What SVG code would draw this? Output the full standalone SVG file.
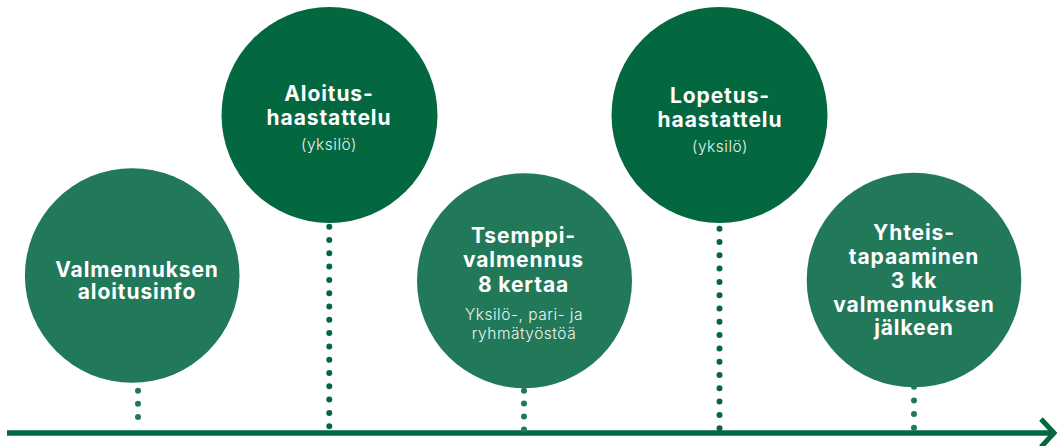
<svg xmlns="http://www.w3.org/2000/svg" width="1057" height="446" viewBox="0 0 1057 446">
<style>
.light{fill:#22795A}
.dark{fill:#03673F}
.t{font-family:Inter,"Open Sans","Liberation Sans",sans-serif;font-weight:700;font-size:21px;fill:#fff;text-anchor:middle;letter-spacing:0.9px}
.s{font-family:Inter,"Open Sans","Liberation Sans",sans-serif;font-weight:300;font-size:15.5px;fill:#fff;text-anchor:middle;letter-spacing:0.5px;opacity:0.92}
.dl{stroke:#22795A;stroke-width:6;stroke-linecap:round;fill:none}
.dd{stroke:#03673F;stroke-width:6;stroke-linecap:round;fill:none}
</style>
<rect width="1057" height="446" fill="#fff"/>
<g id="connectors">
<line x1="7" y1="433" x2="1052" y2="433" stroke="#03673F" stroke-width="5.5"/>
<polyline points="1041,419 1054,433 1041,447" fill="none" stroke="#03673F" stroke-width="5"/>
<line class="dl" x1="138" y1="390.7" x2="138" y2="430" stroke-dasharray="0 13.1"/>
<line class="dd" x1="329.3" y1="226.7" x2="329.3" y2="427" stroke-dasharray="0 13.3"/>
<line class="dl" x1="524" y1="390.7" x2="524" y2="430" stroke-dasharray="0 12.9"/>
<line class="dd" x1="719.5" y1="228.7" x2="719.5" y2="429" stroke-dasharray="0 13.3"/>
<line class="dl" x1="914" y1="386.7" x2="914" y2="428" stroke-dasharray="0 13.7"/>
</g>
<g id="node1">
<circle class="light" cx="132.2" cy="275.5" r="107.3"/>
<text class="t" x="137" y="276.7">Valmennuksen</text>
<text class="t" x="137" y="299.3">aloitusinfo</text>
</g>
<g id="node2">
<circle class="dark" cx="329.5" cy="115" r="108"/>
<text class="t" x="329" y="100.7">Aloitus-</text>
<text class="t" x="329" y="124.7">haastattelu</text>
<text class="s" x="329" y="150">(yksilö)</text>
</g>
<g id="node3">
<circle class="light" cx="524.5" cy="280.7" r="107.5"/>
<text class="t" x="523.5" y="243.3">Tsemppi-</text>
<text class="t" x="523.5" y="267.3">valmennus</text>
<text class="t" x="523.5" y="291.7">8 kertaa</text>
<text class="s" x="524" y="320" font-size="16">Yksilö-, pari- ja</text>
<text class="s" x="524" y="338.5" font-size="16">ryhmätyöstöä</text>
</g>
<g id="node4">
<circle class="dark" cx="719.5" cy="115" r="108"/>
<text class="t" x="720" y="102.7">Lopetus-</text>
<text class="t" x="720" y="126.7">haastattelu</text>
<text class="s" x="720" y="151.7">(yksilö)</text>
</g>
<g id="node5">
<circle class="light" cx="914" cy="280" r="107.3"/>
<text class="t" x="914" y="240">Yhteis-</text>
<text class="t" x="914" y="264">tapaaminen</text>
<text class="t" x="914" y="287.5">3 kk</text>
<text class="t" x="914" y="311.5">valmennuksen</text>
<text class="t" x="914" y="335">jälkeen</text>
</g>
</svg>
